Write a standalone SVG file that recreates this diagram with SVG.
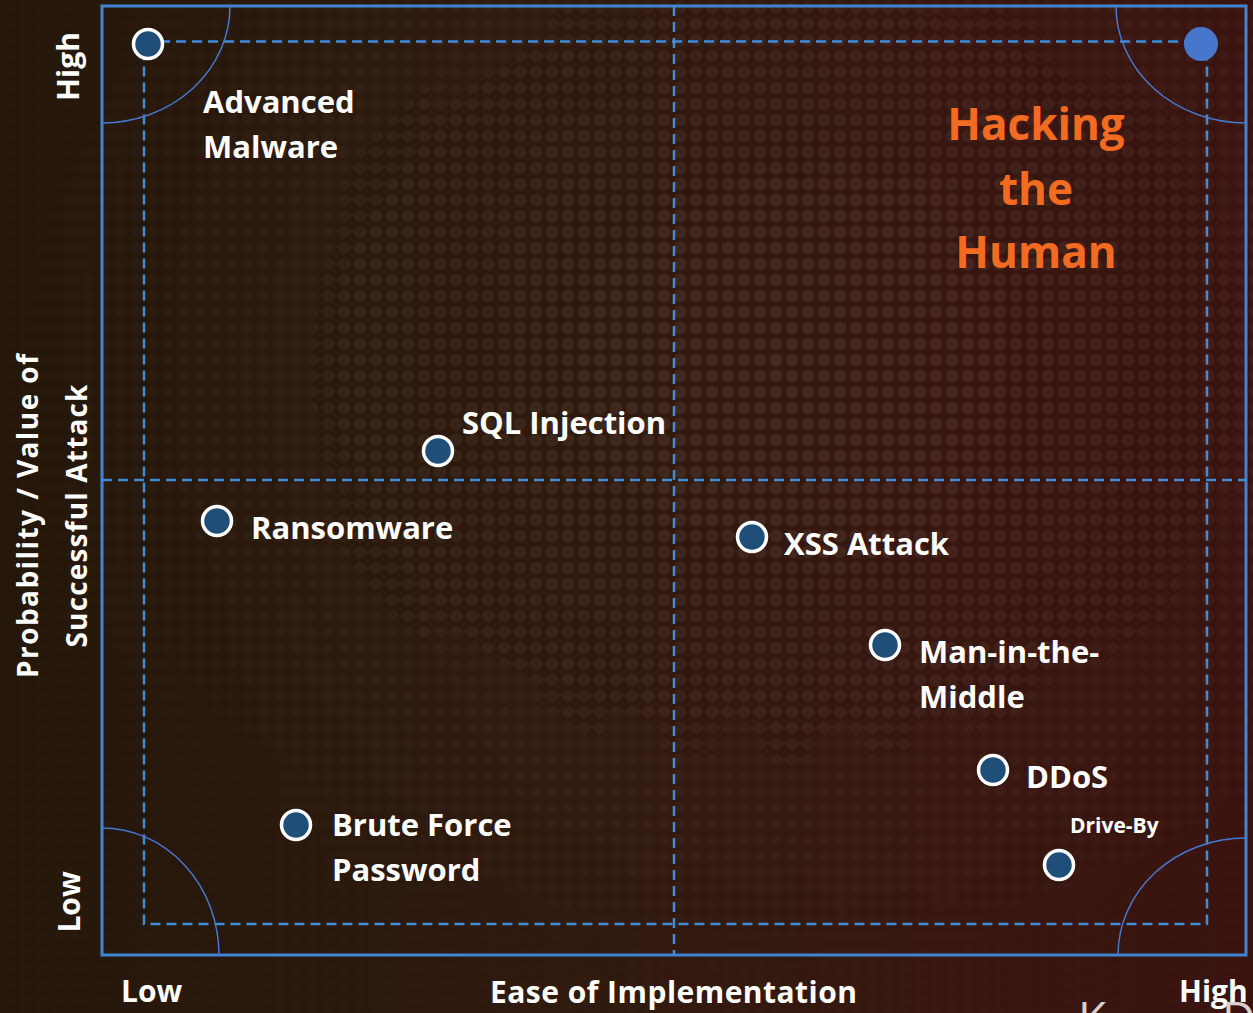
<svg xmlns="http://www.w3.org/2000/svg" width="1253" height="1013" viewBox="0 0 1253 1013">
<defs>
<linearGradient id="bg" x1="0" y1="0" x2="1" y2="0">
<stop offset="0" stop-color="#24170a"/>
<stop offset="0.45" stop-color="#2f1a0e"/>
<stop offset="0.75" stop-color="#371710"/>
<stop offset="1" stop-color="#3a130f"/>
</linearGradient>
<pattern id="dots" x="0" y="0" width="16" height="16" patternUnits="userSpaceOnUse">
<circle cx="8" cy="8" r="6.5" fill="#ffffff"/>
</pattern>
<radialGradient id="glow" cx="0.62" cy="0.36" r="0.6">
<stop offset="0" stop-color="#fff" stop-opacity="0.6"/>
<stop offset="0.5" stop-color="#fff" stop-opacity="0.35"/>
<stop offset="1" stop-color="#fff" stop-opacity="0.06"/>
</radialGradient>
<mask id="dotmask">
<rect width="1253" height="1013" fill="url(#glow)"/>
</mask>
<style>
.lbl{font-family:"Open Sans","Liberation Sans",sans-serif;font-weight:700;fill:#ffffff;font-size:31px}
.ax{font-family:"Open Sans","Liberation Sans",sans-serif;font-weight:700;fill:#ffffff;font-size:30px}
.hh{font-family:"Open Sans","Liberation Sans",sans-serif;font-weight:700;fill:#f26b21;font-size:44px;text-anchor:middle}
.pt{fill:#1f4e79;stroke:#ffffff;stroke-width:3.5}
.dash{fill:none;stroke:#3f8cd8;stroke-width:2.5;stroke-dasharray:10 6}
.arc{fill:none;stroke:#4678d0;stroke-width:1.5}
</style>
</defs>
<rect width="1253" height="1013" fill="url(#bg)"/>
<rect width="1253" height="1013" fill="url(#dots)" opacity="0.13" mask="url(#dotmask)"/>

<g id="frame">
<rect x="102" y="6" width="1144" height="949" fill="none" stroke="#3f85d4" stroke-width="3"/>
</g>
<g id="connectors">
<rect x="144" y="41.5" width="1063" height="882.5" class="dash"/>
<line x1="674" y1="6" x2="674" y2="955" class="dash"/>
<line x1="102" y1="480" x2="1246" y2="480" class="dash"/>
<path class="arc" d="M230 6 A128 117 0 0 1 102 123"/>
<path class="arc" d="M1116 6 A130 117 0 0 0 1246 123"/>
<path class="arc" d="M102 828 A117 127 0 0 1 219 955"/>
<path class="arc" d="M1118 955 A128 117 0 0 1 1246 838"/>
</g>

<g id="hacking-the-human">
<text class="hh" x="1036" y="140">Hacking</text>
<text class="hh" x="1036" y="205">the</text>
<text class="hh" x="1036" y="268">Human</text>
</g>

<g id="node-high-high"><circle cx="1201" cy="44" r="17" fill="#4677cc"/></g>
<g id="node-advanced-malware">
<circle class="pt" cx="148" cy="44" r="14.5"/>
<text class="lbl" x="203" y="113">Advanced</text>
<text class="lbl" x="203" y="158">Malware</text>
</g>
<g id="node-sql-injection">
<circle class="pt" cx="438" cy="451" r="14.5"/>
<text class="lbl" x="462" y="434">SQL Injection</text>
</g>
<g id="node-ransomware">
<circle class="pt" cx="217" cy="521" r="14.5"/>
<text class="lbl" x="251" y="539">Ransomware</text>
</g>
<g id="node-xss-attack">
<circle class="pt" cx="752" cy="537" r="14.5"/>
<text class="lbl" x="784" y="555">XSS Attack</text>
</g>
<g id="node-mitm">
<circle class="pt" cx="885" cy="645" r="14.5"/>
<text class="lbl" x="919" y="663">Man-in-the-</text>
<text class="lbl" x="919" y="708">Middle</text>
</g>
<g id="node-ddos">
<circle class="pt" cx="993" cy="770" r="14.5"/>
<text class="lbl" x="1026" y="788">DDoS</text>
</g>
<g id="node-drive-by">
<circle class="pt" cx="1059" cy="865" r="14.5"/>
<text class="lbl" x="1070" y="833" style="font-size:21px">Drive-By</text>
</g>
<g id="node-brute-force">
<circle class="pt" cx="296" cy="825" r="14.5"/>
<text class="lbl" x="332" y="836">Brute Force</text>
<text class="lbl" x="332" y="881">Password</text>
</g>

<g id="axis-x">
<text class="ax" x="121" y="1002">Low</text>
<text class="ax" x="490" y="1003" textLength="367">Ease of Implementation</text>
<text class="ax" x="1179" y="1002">High</text>
</g>
<g id="axis-y">
<text class="ax" transform="translate(79,66.5) rotate(-90)" text-anchor="middle">High</text>
<text class="ax" transform="translate(80,902) rotate(-90)" text-anchor="middle">Low</text>
<text class="ax" transform="translate(38,516) rotate(-90)" text-anchor="middle" style="font-size:28px" textLength="324">Probability / Value of</text>
<text class="ax" transform="translate(87,516) rotate(-90)" text-anchor="middle" style="font-size:28px" textLength="263">Successful Attack</text>
</g>
<g id="logo-partial" fill="#d8d0cc" font-family="Open Sans, Liberation Sans, sans-serif" font-size="46">
<text x="1078" y="1035">K</text>
<text x="1222" y="1035">D</text>
</g>
</svg>
